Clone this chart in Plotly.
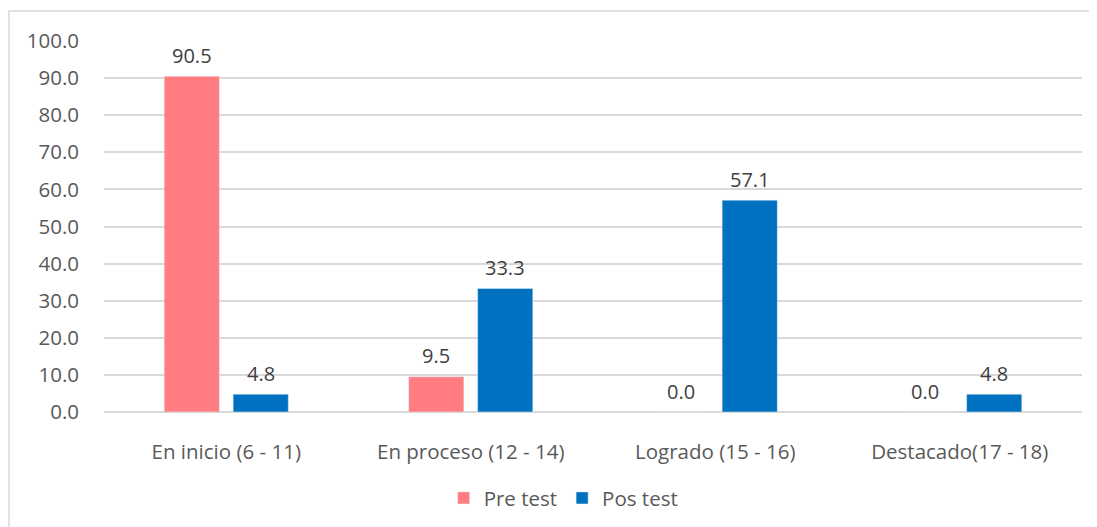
import plotly.graph_objects as go

categories = ["En inicio (6 - 11)", "En proceso (12 - 14)", "Logrado (15 - 16)", "Destacado(17 - 18)"]
pre_test = [90.5, 9.5, 0.0, 0.0]
pos_test = [4.8, 33.3, 57.1, 4.8]
y_ticks = [0, 10, 20, 30, 40, 50, 60, 70, 80, 90, 100]

FONT = "Open Sans"
TXT = "#404040"
TICK = "#595959"
FS = 20.5
FS_LBL = 20
BARGAP = 0.436
SLOT = (1 - BARGAP) / 2

xpos = list(range(len(categories)))

fig = go.Figure()
fig.add_trace(go.Bar(name="Pre test", x=xpos, y=pre_test, marker_color="#FF7C80"))
fig.add_trace(go.Bar(name="Pos test", x=xpos, y=pos_test, marker_color="#0070C0"))

annotations = []
for series, off in ((pre_test, -SLOT / 2), (pos_test, SLOT / 2)):
    for i, v in enumerate(series):
        annotations.append(dict(x=i + off, y=v, xref="x", yref="y", text=f"{v:.1f}",
                                showarrow=False, yanchor="middle", yshift=21,
                                font=dict(family=FONT, size=FS_LBL, color=TXT)))

fig.update_layout(
    width=1081, height=519,
    margin=dict(l=96, r=7, t=33, b=115),
    paper_bgcolor="white", plot_bgcolor="white",
    barmode="group", bargap=BARGAP, bargroupgap=0.2,
    font=dict(family=FONT, size=FS, color=TICK),
    showlegend=True,
    legend=dict(orientation="h", x=0.47, xanchor="center", y=-0.232, yanchor="middle",
                font=dict(family=FONT, size=FS, color=TICK), itemwidth=30),
    annotations=annotations,
    shapes=[dict(type="rect", xref="paper", yref="paper",
                 x0=-0.0971, x1=1.008, y0=-0.45, y1=1.081,
                 line=dict(color="#D9D9D9", width=1.5), fillcolor="rgba(0,0,0,0)", layer="below")],
)
fig.update_yaxes(range=[0, 100], tickvals=y_ticks, ticktext=[f"{v:.1f}" for v in y_ticks],
                 showgrid=True, gridcolor="#D9D9D9", gridwidth=1.5, zeroline=True,
                 zerolinecolor="#D9D9D9", zerolinewidth=1.5, showline=False, ticks="",
                 ticklabelstandoff=24, tickfont=dict(family=FONT, size=FS, color=TICK))
fig.update_xaxes(range=[-0.5, len(categories) - 0.5], tickvals=xpos, ticktext=categories,
                 showgrid=False, showline=False, ticks="", ticklabelstandoff=25,
                 tickfont=dict(family=FONT, size=FS, color=TICK))

fig.write_html("out.html")
